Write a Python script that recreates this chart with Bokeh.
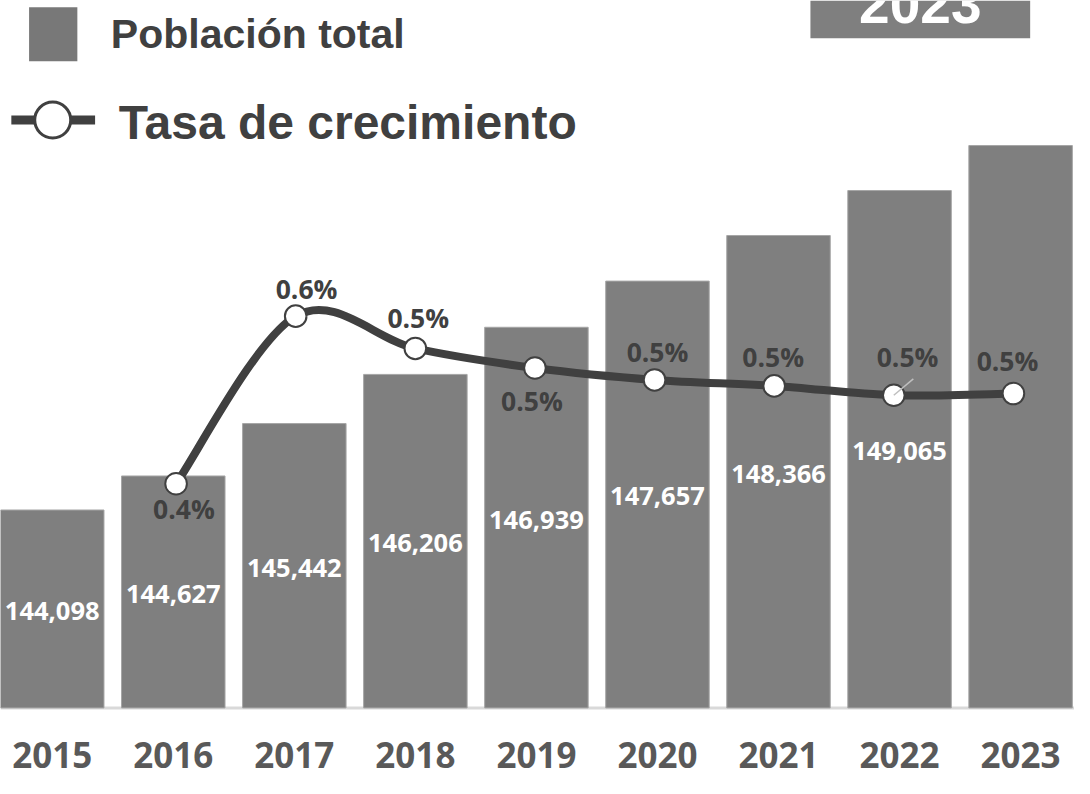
from bokeh.plotting import figure
from bokeh.models import Range1d, Span
from bokeh.core.properties import value
from bokeh.embed import file_html
from bokeh.resources import INLINE

# ---------------- data ----------------
years = ["2015", "2016", "2017", "2018", "2019", "2020", "2021", "2022", "2023"]
population = [144098, 144627, 145442, 146206, 146939, 147657, 148366, 149065, 149765]
population_labels = ["144,098", "144,627", "145,442", "146,206", "146,939",
                     "147,657", "148,366", "149,065", ""]
rate_years = ["2016", "2017", "2018", "2019", "2020", "2021", "2022", "2023"]
growth_rate = [0.367, 0.564, 0.526, 0.503, 0.489, 0.482, 0.471, 0.473]   # percent
rate_labels = ["0.4%", "0.6%", "0.5%", "0.5%", "0.5%", "0.5%", "0.5%", "0.5%"]
legend_bar = "Población total"
legend_line = "Tasa de crecimiento"
badge_text = "2023"

# ---------------- layout / style ----------------
W, H = 1074, 778
SX, SY = W / 1090.0, H / 794.0
AXIS_BASE = 141020
BAR_COLOR = "#7f7f7f"
DARK = "#404040"
FONT_NUM = value("Open Sans")
FONT_TXT = value("Liberation Sans")

p = figure(width=W, height=H, output_backend="svg", toolbar_location=None,
           x_range=Range1d(-0.4274, 8.4453), y_range=Range1d(139923, 152020),
           x_axis_type=None, y_axis_type=None, min_border=0,
           outline_line_color=None, background_fill_color="white",
           border_fill_color="white")
p.extra_x_ranges = {"line_x": Range1d(-0.4679, 8.5107), "px_x": Range1d(0, 1090)}
p.extra_y_ranges = {"line_y": Range1d(0.0205, 0.935), "px_y": Range1d(794, 0)}
p.xgrid.grid_line_color = None
p.ygrid.grid_line_color = None

bar_x = list(range(len(years)))

# baseline
p.add_layout(Span(location=AXIS_BASE, dimension="width", line_color="#d9d9d9",
                  line_width=3, level="underlay"))

# bars
p.vbar(x=bar_x, width=0.855, bottom=AXIS_BASE, top=population,
       fill_color=BAR_COLOR, line_color="#a6a6a6", line_width=1)

# population labels (centered in the bars)
p.text(x=bar_x, y=[(AXIS_BASE + v) / 2 for v in population], text=population_labels,
       text_font=FONT_NUM, text_font_style="bold", text_font_size="25.5px",
       text_color="white", text_align="center", text_baseline="middle",
       y_offset=2 * SY)

# year labels
p.text(x=bar_x, y=[AXIS_BASE] * len(years), text=years,
       text_font=FONT_NUM, text_font_style="bold", text_font_size="35px",
       text_color="#595959", text_align="center", text_baseline="middle",
       y_offset=48 * SY)

# growth line (smoothed, Catmull-Rom style bezier segments)
lx = [years.index(y) for y in rate_years]
ly = growth_rate
n = len(lx)
x0, y0, x1, y1, cx0, cy0, cx1, cy1 = [], [], [], [], [], [], [], []
for i in range(n - 1):
    pm = max(i - 1, 0)
    pp = min(i + 2, n - 1)
    x0.append(lx[i]); y0.append(ly[i]); x1.append(lx[i + 1]); y1.append(ly[i + 1])
    cx0.append(lx[i] + (lx[i + 1] - lx[pm]) / 6.0)
    cy0.append(ly[i] + (ly[i + 1] - ly[pm]) / 6.0)
    cx1.append(lx[i + 1] - (lx[pp] - lx[i]) / 6.0)
    cy1.append(ly[i + 1] - (ly[pp] - ly[i]) / 6.0)
p.bezier(x0=x0, y0=y0, x1=x1, y1=y1, cx0=cx0, cy0=cy0, cx1=cx1, cy1=cy1,
         line_color=DARK, line_width=8, line_cap="round",
         x_range_name="line_x", y_range_name="line_y")

p.scatter(x=lx, y=ly, size=21.6, fill_color="white", line_color=DARK, line_width=2,
          x_range_name="line_x", y_range_name="line_y")

# leader line for 2022 label
i22 = rate_years.index("2022")
p.ray(x=[lx[i22]], y=[ly[i22]], length=25.5, length_units="screen", angle=40,
      angle_units="deg", line_color="#bfbfbf", line_width=1.5,
      x_range_name="line_x", y_range_name="line_y")

# rate labels (visual centre offsets from their points)
rate_dx = [8, 11, 3, -3, 3, -1, 14, -6]
rate_dy = [26, -28, -31, 34, -29, -29, -39, -33]
p.text(x=lx, y=ly, text=rate_labels,
       x_offset=[d * SX for d in rate_dx], y_offset=[d * SY for d in rate_dy],
       text_font=FONT_NUM, text_font_style="bold", text_font_size="26.5px",
       text_color=DARK, text_align="center", text_baseline="middle",
       x_range_name="line_x", y_range_name="line_y")

# legend (manual)
p.quad(left=[29], right=[78], top=[7], bottom=[62], fill_color="#787878",
       line_color=None, x_range_name="px_x", y_range_name="px_y")
p.text(x=[112], y=[34.5], text=[legend_bar], text_font=FONT_TXT,
       text_font_style="bold", text_font_size="41px", text_color=DARK,
       text_baseline="middle", x_range_name="px_x", y_range_name="px_y")
p.line(x=[11, 96], y=[122, 122], line_color=DARK, line_width=9,
       x_range_name="px_x", y_range_name="px_y")
p.scatter(x=[53], y=[122], size=36, fill_color="white", line_color=DARK, line_width=3,
          x_range_name="px_x", y_range_name="px_y")
p.text(x=[120], y=[124], text=[legend_line], text_font=FONT_TXT,
       text_font_style="bold", text_font_size="48px", text_color=DARK,
       text_baseline="middle", x_range_name="px_x", y_range_name="px_y")

# 2023 badge
p.quad(left=[822], right=[1045], top=[0], bottom=[38.5], fill_color=BAR_COLOR,
       line_color=None, x_range_name="px_x", y_range_name="px_y")
p.text(x=[933.5], y=[4], text=[badge_text], text_font=FONT_TXT,
       text_font_style="bold", text_font_size="55px", text_color="white",
       text_align="center", text_baseline="middle",
       x_range_name="px_x", y_range_name="px_y")

open("out.html", "w").write(file_html(p, INLINE))
